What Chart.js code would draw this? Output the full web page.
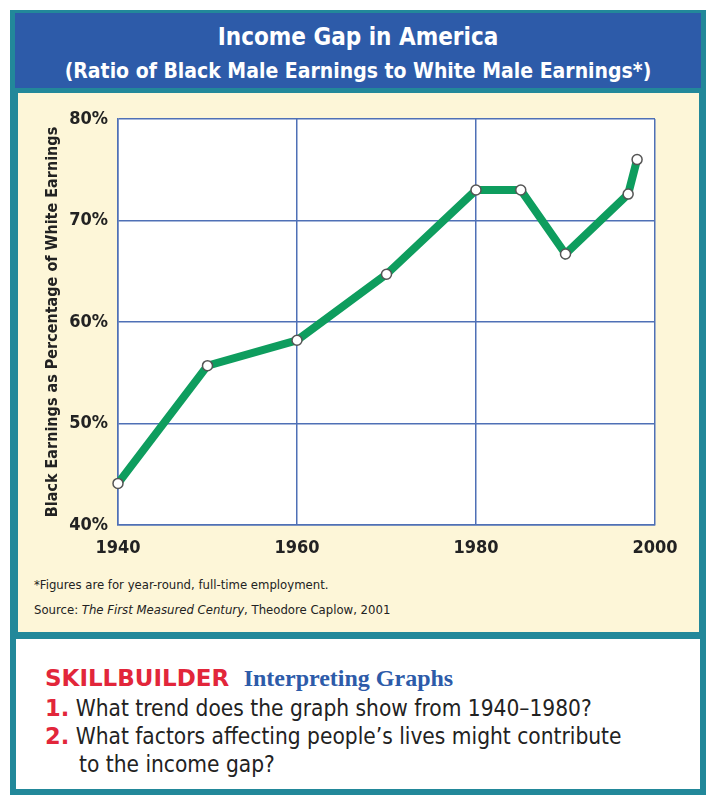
<!DOCTYPE html>
<html>
<head>
<meta charset="utf-8">
<script src="https://cdn.jsdelivr.net/npm/chart.js@4.4.1/dist/chart.umd.min.js"></script>
<style>
  body { margin:0; width:710px; height:795px; background:#fff; position:relative; overflow:hidden;
         font-family:"Liberation Sans Narrow","DejaVu Sans Condensed",sans-serif; }
  .abs { position:absolute; }
  #outer { left:10px; top:10px; width:696px; height:630px; background:#22889a; }
  #header { left:15px; top:13px; width:686px; height:75px; background:#2d5ba9; color:#fff; text-align:center; font-weight:bold; }
  #header .t1 { position:absolute; left:0; right:0; top:10px; font-size:24px; }
  #header .t2 { position:absolute; left:0; right:0; top:46px; font-size:21px; }
  #panel { left:18px; top:93px; width:681px; height:539px; background:#fdf6d8; }
  #wrap { left:18px; top:93px; width:681px; height:475px; }
  .note { left:34px; font-size:13px; color:#222; }
  #skill { left:10px; top:633px; width:684px; height:150px; border:6px solid #22889a; background:#fff; }
  .q { position:absolute; font-size:22.5px; color:#222; white-space:nowrap; }
  .num { color:#e2263a; font-weight:bold; font-family:"DejaVu Sans",sans-serif; }
</style>
</head>
<body>
<div id="outer" class="abs"></div>
<div id="header" class="abs">
  <div class="t1">Income Gap in America</div>
  <div class="t2">(Ratio of Black Male Earnings to White Male Earnings*)</div>
</div>
<div id="panel" class="abs"></div>
<div id="wrap" class="abs"><canvas id="gapChart" width="681" height="475"></canvas></div>
<div class="abs note" style="top:577px">*Figures are for year-round, full-time employment.</div>
<div class="abs note" style="top:602px">Source: <i>The First Measured Century</i>, Theodore Caplow, 2001</div>
<div id="skill" class="abs">
  <div class="q" style="left:29px;top:26px;">
    <span style="color:#e2263a;font-weight:bold;font-family:'DejaVu Sans',sans-serif;font-size:23px;">SKILLBUILDER</span>
    <span style="color:#2d5ba9;font-weight:bold;font-family:'Liberation Serif',serif;font-size:24px;margin-left:8px;">Interpreting Graphs</span>
  </div>
  <div class="q" style="left:29px;top:56px;"><span class="num">1.</span> What trend does the graph show from 1940–1980?</div>
  <div class="q" style="left:29px;top:84px;"><span class="num">2.</span> What factors affecting people’s lives might contribute</div>
  <div class="q" style="left:63px;top:112px;">to the income gap?</div>
</div>

<script>
// Income gap data
const years = [1940, 1950, 1960, 1970, 1980, 1985, 1990, 1997, 1998];
const ratio = [44.1, 55.7, 58.2, 64.7, 73.0, 73.0, 66.7, 72.6, 76.0];
const yearTicks = [1940, 1960, 1980, 2000];
const pctTicks = [40, 50, 60, 70, 80];

const gridBlue = "#4f70b6";
const labelFont = { family: "'Liberation Sans Narrow','DejaVu Sans Condensed',sans-serif", size: 18, weight: "bold" };

const plotBg = {
    id: "plotBg",
    beforeDraw(chart) {
        const a = chart.chartArea;
        chart.ctx.save();
        chart.ctx.fillStyle = "#ffffff";
        chart.ctx.fillRect(a.left, a.top, a.right - a.left, a.bottom - a.top);
        chart.ctx.restore();
    }
};

new Chart(document.getElementById("gapChart"), {
    type: "line",
    data: {
        datasets: [{
            data: years.map((y, i) => ({ x: y, y: ratio[i] })),
            borderColor: "#0e9d5e",
            borderWidth: 8,
            pointRadius: 5,
            pointBackgroundColor: "#ffffff",
            pointBorderColor: "#555555",
            pointBorderWidth: 1.5,
            tension: 0,
            clip: false
        }]
    },
    options: {
        responsive: false,
        animation: false,
        layout: { padding: { top: 26, right: 44, left: 0, bottom: 0 } },
        plugins: { legend: { display: false }, tooltip: { enabled: false } },
        scales: {
            x: {
                type: "linear",
                min: 1940,
                max: 2000,
                afterBuildTicks: s => { s.ticks = yearTicks.map(v => ({ value: v })); },
                afterFit: s => { s.height = 43; },
                ticks: { color: "#222", font: labelFont, padding: 13, callback: v => String(v) },
                grid: { color: gridBlue, lineWidth: 1.5, drawTicks: false },
                border: { color: gridBlue, width: 1.5 }
            },
            y: {
                min: 40,
                max: 80,
                afterBuildTicks: s => { s.ticks = pctTicks.map(v => ({ value: v })); },
                afterFit: s => { s.width = 100; },
                ticks: { color: "#222", font: labelFont, padding: 10, callback: v => v + "%" },
                grid: { color: gridBlue, lineWidth: 1.5, drawTicks: false },
                border: { color: gridBlue, width: 1.5 },
                title: {
                    display: true,
                    text: "Black Earnings as Percentage of White Earnings",
                    color: "#222",
                    font: { family: "'Liberation Sans Narrow','DejaVu Sans Condensed',sans-serif", size: 16, weight: "bold" },
                    padding: { top: 25, bottom: 0 }
                }
            }
        }
    },
    plugins: [plotBg]
});
</script>
</body>
</html>
